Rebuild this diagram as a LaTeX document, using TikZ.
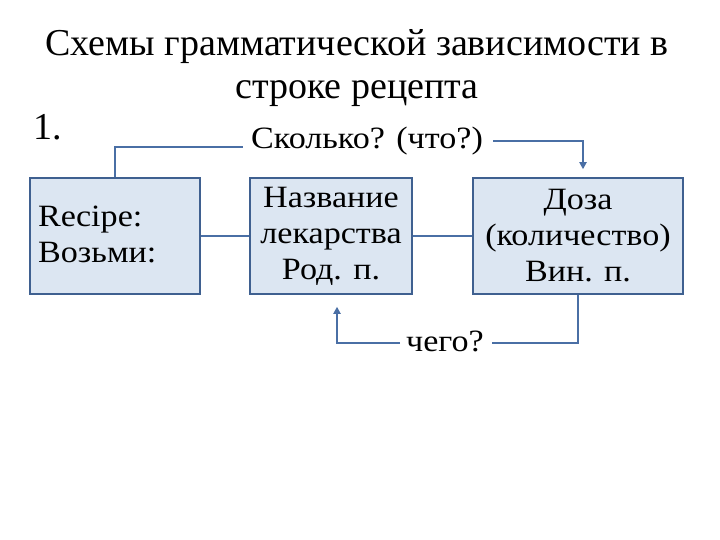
\documentclass[tikz,border=0pt]{standalone}
\usepackage{fontspec}
\setmainfont{Liberation Serif}
\newfontfamily\bodyfont[FakeStretch=1.1]{Liberation Serif}
\usetikzlibrary{arrows.meta}
\definecolor{boxfill}{HTML}{DCE6F2}
\definecolor{boxdraw}{HTML}{3F6090}
\definecolor{linec}{HTML}{4A6FA5}
\tikzset{
  box/.style={draw=boxdraw, line width=1.5pt, fill=boxfill, minimum height=116pt, inner sep=0pt},
  conn/.style={draw=linec, line width=2pt},
  arr/.style={conn, -{Triangle[length=7pt,width=7pt]}},
  txt/.style={font=\bodyfont\fontsize{31}{36}\selectfont, inner sep=0pt},
}
\begin{document}
\begin{tikzpicture}[x=1pt,y=-1pt]
\useasboundingbox (0,0) rectangle (720,540);
\node[font=\fontsize{38}{43}\selectfont, align=center, inner sep=0pt] (title) at (357,68) {Схемы грамматической зависимости в\\строке рецепта};
\node[txt, font=\fontsize{38}{40}\selectfont] (num) at (48,127) {1.};
\node[txt] (q1) at (367,141) {Сколько? (что?)};
\node[box, minimum width=170pt] (rec) at (115,236) {};
\node[txt, align=left, anchor=west] (rect) at (38,234) {Recipe:\\Возьми:};
\node[box, minimum width=162pt, txt, align=center] (name) at (331,236) {Название\\лекарства\\Род. п.};
\node[box, minimum width=210pt, txt, align=center] (dose) at (578,236) {Доза\\(количество)\\Вин. п.};
\node[txt] (q2) at (445,341) {чего?};
\draw[conn] (rec.north) |- ([xshift=-8pt,yshift=-6pt]q1.west);
\draw[arr] ([xshift=10pt]q1.east) -| ([xshift=5pt,yshift=8pt]dose.north);
\draw[conn] (rec.east) -- (name.west);
\draw[conn] (name.east) -- (dose.west);
\draw[conn] (dose.south) |- ([xshift=8pt,yshift=-2pt]q2.east);
\draw[arr] ([xshift=-6pt,yshift=-2pt]q2.west) -| ([xshift=6pt,yshift=-12pt]name.south);
\end{tikzpicture}
\end{document}
